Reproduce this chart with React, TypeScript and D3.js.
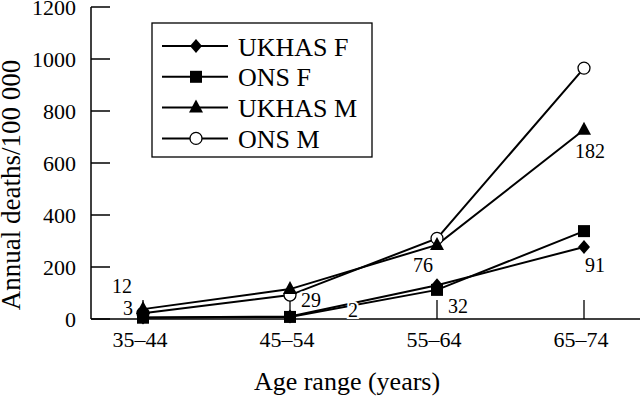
import React from "react";
import * as d3 from "d3";

const categories = ["35–44", "45–54", "55–64", "65–74"];
const ukhasF = [6, 10, 130, 277];
const onsF = [5, 8, 112, 338];
const ukhasM = [38, 115, 285, 728];
const onsM = [22, 92, 310, 965];
const yTicks = [0, 200, 400, 600, 800, 1000, 1200];

const seriesNames = ["UKHAS F", "ONS F", "UKHAS M", "ONS M"];
const seriesValues = [ukhasF, onsF, ukhasM, onsM];
const seriesMarkers = ["diamond", "square", "triangle", "circle"];

// annotation labels: text, category index, anchor value (data units)
const annoText = ["12", "3", "29", "2", "76", "32", "182", "91"];
const annoCat = [0, 0, 1, 1, 2, 2, 3, 3];
const annoValue = [100, 15, 45, 8, 180, 25, 620, 180];
const annoDx = [-21, -15, 21, 63, -14, 21, 6, 11];

const W = 640;
const H = 401;

function Marker({ type, x, y }: { type: string; x: number; y: number }) {
  if (type === "diamond") {
    return <path d={`M${x},${y - 7}L${x + 6},${y}L${x},${y + 7}L${x - 6},${y}Z`} fill="#000" />;
  }
  if (type === "square") {
    return <rect x={x - 6} y={y - 6} width={12} height={12} fill="#000" />;
  }
  if (type === "triangle") {
    return <path d={`M${x},${y - 8}L${x + 7},${y + 5}L${x - 7},${y + 5}Z`} fill="#000" />;
  }
  return <circle cx={x} cy={y} r={6} fill="#fff" stroke="#000" strokeWidth={1.3} />;
}

export default function App() {
  const x = d3.scalePoint<string>().domain(categories).range([143, 584]);
  const y = d3.scaleLinear().domain([0, 1200]).range([319, 7]);
  const line = d3
    .line<number>()
    .x((_, i) => x(categories[i]) as number)
    .y((d) => y(d));
  const font = "'Liberation Serif', 'Times New Roman', serif";
  const axisX0 = 91;
  const drawOrder = [3, 2, 1, 0];

  return (
    <svg
      width={W}
      height={H}
      style={{ position: "absolute", left: 0, top: 0, background: "#fff" }}
      fontFamily={font}
    >
      <rect width={W} height={H} fill="#fff" />
      {/* y axis */}
      <line x1={axisX0} x2={axisX0} y1={y(1200)} y2={y(0)} stroke="#000" strokeWidth={1.5} />
      {yTicks.map((t) => (
        <g key={t}>
          <line x1={axisX0} x2={axisX0 + 19} y1={y(t)} y2={y(t)} stroke="#000" strokeWidth={1.5} />
          <text x={76} y={y(t) + 8} textAnchor="end" fontSize={22} fill="#000">
            {t}
          </text>
        </g>
      ))}
      {/* x axis */}
      <line x1={axisX0} x2={W} y1={y(0)} y2={y(0)} stroke="#000" strokeWidth={1.5} />
      {categories.map((c) => (
        <g key={c}>
          <line
            x1={x(c) as number}
            x2={x(c) as number}
            y1={y(0)}
            y2={y(0) - 19}
            stroke="#000"
            strokeWidth={1.3}
          />
          <text x={(x(c) as number) - 3} y={347} textAnchor="middle" fontSize={22} fill="#000">
            {c}
          </text>
        </g>
      ))}
      {/* axis titles */}
      <text x={347} y={390} textAnchor="middle" fontSize={26} fill="#000">
        Age range (years)
      </text>
      <text
        transform={`translate(20,185) rotate(-90)`}
        textAnchor="middle"
        fontSize={27}
        fill="#000"
      >
        Annual deaths/100 000
      </text>
      {/* series lines */}
      {seriesValues.map((vals, si) => (
        <path key={"l" + si} d={line(vals) || ""} fill="none" stroke="#000" strokeWidth={2} />
      ))}
      {/* annotations */}
      {annoText.map((t, i) => (
        <text
          key={"a" + i}
          x={(x(categories[annoCat[i]]) as number) + annoDx[i]}
          y={y(annoValue[i])}
          textAnchor="middle"
          fontSize={20}
          fill="#000"
          stroke="#fff"
          strokeWidth={4}
          paintOrder="stroke"
        >
          {t}
        </text>
      ))}
      {/* markers */}
      {drawOrder.map((si) =>
        seriesValues[si].map((v, i) => (
          <Marker key={`m${si}-${i}`} type={seriesMarkers[si]} x={x(categories[i]) as number} y={y(v)} />
        ))
      )}
      {/* legend */}
      <rect x={152} y={23} width={220} height={134} fill="#fff" stroke="#000" strokeWidth={1.3} />
      {seriesNames.map((n, i) => {
        const cy = 46 + i * 30.8;
        return (
          <g key={n}>
            <line x1={162} x2={228} y1={cy} y2={cy} stroke="#000" strokeWidth={2} />
            <Marker type={seriesMarkers[i]} x={196} y={cy} />
            <text x={238} y={cy + 9.5} fontSize={26} fill="#000">
              {n}
            </text>
          </g>
        );
      })}
    </svg>
  );
}
